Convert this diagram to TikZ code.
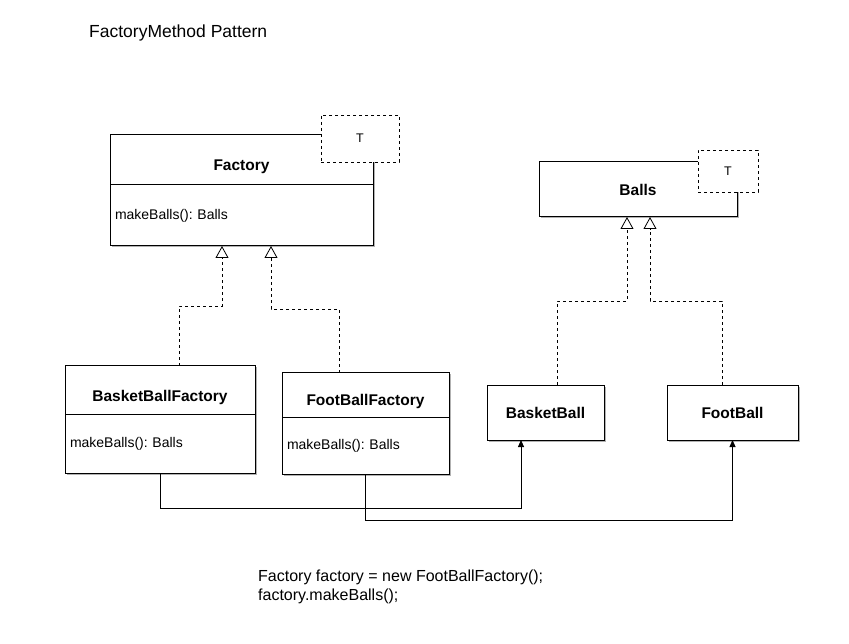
\documentclass[tikz,border=0pt]{standalone}
\usepackage{fontspec}
\setmainfont{Liberation Sans}
\usetikzlibrary{positioning,calc,arrows.meta,shadows}
\tikzset{font=\fontsize{14}{16}\selectfont}
\frenchspacing

\tikzset{
	boxshadow/.style={drop shadow={shadow xshift=1.5pt, shadow yshift=-1.5pt, opacity=0.3, fill=black}},
	classhead/.style={draw, fill=white, line width=1pt, outer sep=0pt, inner sep=0pt, font=\fontsize{15.5}{18}\selectfont\bfseries, boxshadow},
	splithead/.style={classhead, text height=22pt, text depth=0pt},
	classbody/.style={draw, fill=white, line width=1pt, outer sep=0pt, inner xsep=5pt, inner ysep=0pt, align=left, boxshadow},
	tparam/.style={draw, dashed, fill=white, line width=0.8pt, inner sep=0pt, font=\fontsize{12.5}{14}\selectfont},
	realize/.style={dashed, line width=0.8pt, -{Triangle[open, length=12pt, width=13pt, fill=white]}},
	assoc/.style={line width=0.8pt, -{Triangle[length=7pt, width=6pt]}},
}

\begin{document}
\begin{tikzpicture}[x=1pt, y=-1pt]
	\useasboundingbox (0,0) rectangle (849,644);
	\begin{scope}
		\node[anchor=base west, inner sep=0pt, font=\fontsize{17.5}{20}\selectfont] (title) at (89,37.7) {FactoryMethod Pattern};

		% abstract classes
		\node[splithead, minimum width=263, minimum height=50] (fac) at (241.5,160) {Factory};
		\node[classbody, minimum width=263, minimum height=61, text width=253, below=0pt of fac] (facb) {makeBalls(): Balls};
		\node[tparam, minimum width=78, minimum height=47] (fact) at (360,138.5) {T};

		\node[classhead, minimum width=198, minimum height=55] (balls) at (638,189.5) {Balls};
		\node[tparam, minimum width=60, minimum height=42] (ballst) at (728,171) {T};

		% concrete classes
		\node[splithead, minimum width=190, minimum height=48] (bbf) at (160,390) {BasketBallFactory};
		\node[classbody, minimum width=190, minimum height=59, text width=180, below=0pt of bbf] (bbfb) {makeBalls(): Balls};

		\node[splithead, minimum width=167, minimum height=44] (fbf) at (365.5,395) {FootBallFactory};
		\node[classbody, minimum width=167, minimum height=57, text width=157, below=0pt of fbf] (fbfb) {makeBalls(): Balls};

		\node[classhead, minimum width=117, minimum height=55] (bb) at (545.5,412.5) {BasketBall};
		\node[classhead, minimum width=131, minimum height=55] (fb) at (732.5,412.5) {FootBall};

		\draw[realize] ([xshift=19pt]bbf.north) -- ++(0,-60) -| ([xshift=-19.5pt]facb.south);
		\draw[realize] ([xshift=-26.5pt]fbf.north) -- ++(0,-64) -| ([xshift=29.5pt]facb.south);
		\draw[realize] ([xshift=11.5pt]bb.north) -- ++(0,-84) -| ([xshift=-11pt]balls.south);
		\draw[realize] ([xshift=-10.5pt]fb.north) -- ++(0,-84) -| ([xshift=12pt]balls.south);

		\draw[assoc] (bbfb.south) -- ++(0,35) -| ([xshift=-24.5pt]bb.south);
		\draw[assoc] (fbfb.south) -- ++(0,46) -| (fb.south);

		\node[anchor=north west, align=left, inner sep=0pt, font=\fontsize{16}{19}\selectfont] (code) at (258,569.5) {Factory factory = new FootBallFactory();\\factory.makeBalls();};
	\end{scope}
\end{tikzpicture}
\end{document}
